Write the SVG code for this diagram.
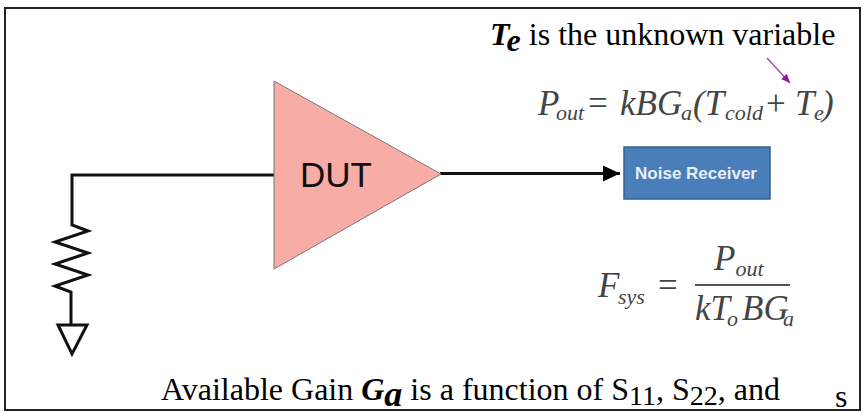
<svg xmlns="http://www.w3.org/2000/svg" width="864" height="412" viewBox="0 0 864 412">
<style>
text{font-family:"Liberation Serif",serif}
.t{font-size:32px;fill:#000}
.b{font-weight:bold;font-style:italic}
.m{font-style:italic;fill:#444;font-size:35px}
.s{font-size:22px}
.u{font-style:normal}
.w{fill:none;stroke:#111;stroke-width:3}
</style>
<defs><marker id="ah" markerUnits="userSpaceOnUse" markerWidth="18" markerHeight="18" refX="17" refY="9" orient="auto"><path d="M0 1L17 9L0 17z" fill="#000"/></marker>
<marker id="ap" markerUnits="userSpaceOnUse" markerWidth="10" markerHeight="10" refX="9" refY="5" orient="auto"><path d="M0 1L9 5L0 9z" fill="#8a1a9a"/></marker></defs>
<rect x="0" y="0" width="864" height="412" fill="#fff"/>
<rect id="frame" x="5" y="8" width="855" height="402" fill="none" stroke="#222" stroke-width="2"/>
<g id="connectors">
<path class="w" d="M275 175H72V225L88 231L55 242L88 253L55 264L88 275L55 286L71 292V325"/>
<path d="M440 173.500H620" fill="none" stroke="#111" stroke-width="3" marker-end="url(#ah)"/>
<path d="M767 58L790 83" fill="none" stroke="#a050b0" stroke-width="1.500" marker-end="url(#ap)"/>
</g>
<g id="ground"><path class="w" d="M58 325H87L72 354z"/></g>
<g id="dut"><path d="M274 81L441 174L274 269z" fill="#f8aca6" stroke="#777" stroke-width="1"/>
<text x="336" y="187" font-size="35" style="font-family:'Liberation Sans',sans-serif" text-anchor="middle" fill="#111">DUT</text></g>
<g id="receiver"><rect x="624" y="147" width="146" height="52" fill="#4a7ebb" stroke="#3a5f8f" stroke-width="1.500"/>
<text x="696" y="179" font-size="17" font-weight="bold" style="font-family:'Liberation Sans',sans-serif" text-anchor="middle" fill="#e8f0fa">Noise Receiver</text></g>
<g id="label-te"><text class="t" x="490" y="45"><tspan class="b">T</tspan><tspan class="b" dy="6">e</tspan><tspan dy="-6"> is the unknown variable</tspan></text></g>
<g id="eq-pout"><text class="m" y="115"><tspan x="538">P</tspan><tspan class="s" x="556" dy="5">out</tspan><tspan class="u" x="588" dy="-5">=</tspan><tspan x="620">kBG</tspan><tspan class="s" x="681" dy="5">a</tspan><tspan x="693" dy="-5">(T</tspan><tspan class="s" x="725" dy="5">cold</tspan><tspan class="u" x="766" dy="-5">+</tspan><tspan x="795">T</tspan><tspan class="s" x="814" dy="5">e</tspan><tspan x="822" dy="-5">)</tspan></text></g>
<g id="eq-fsys"><text class="m" y="297"><tspan x="598">F</tspan><tspan class="s" x="618" dy="7">sys</tspan><tspan class="u" x="658" dy="-7">=</tspan></text>
<text class="m" x="714" y="270">P<tspan class="s" dy="6">out</tspan></text>
<path d="M695 285H790" stroke="#555" stroke-width="2"/>
<text class="m" y="320"><tspan x="695">kT</tspan><tspan class="s" x="727" dy="6">o</tspan><tspan x="742" dy="-6">BG</tspan><tspan class="s" x="783" dy="6">a</tspan></text></g>
<g id="label-ga"><text class="t" x="161" y="400">Available Gain <tspan class="b">G</tspan><tspan class="b" font-size="36" dy="6">a</tspan><tspan dy="-6"> is a function of S</tspan><tspan font-size="28" dy="5">11</tspan><tspan dy="-5">, S</tspan><tspan font-size="28" dy="5">22</tspan><tspan dy="-5">, and</tspan></text>
<text class="t" x="835" y="407">s</text></g>
</svg>
